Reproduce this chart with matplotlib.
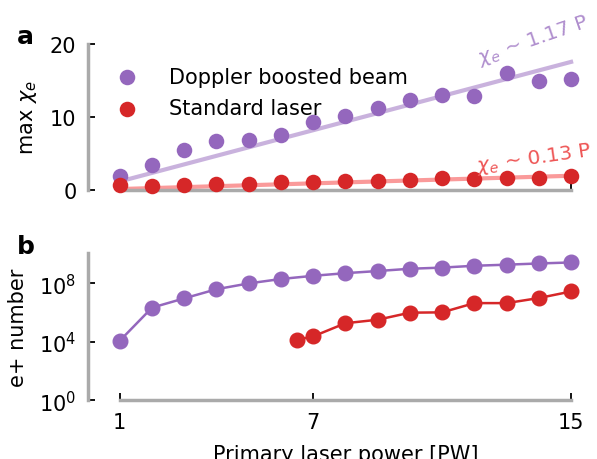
import numpy as np
import matplotlib
matplotlib.use('Agg')
import matplotlib.pyplot as plt

# panel a: max chi_e versus primary laser power
power = [1, 2, 3, 4, 5, 6, 7, 8, 9, 10, 11, 12, 13, 14, 15]
chi_doppler = [1.9, 3.4, 5.45, 6.7, 6.8, 7.6, 9.3, 10.2, 11.2, 12.3, 13.0, 12.9, 16.0, 14.9, 15.2]
chi_standard = [0.7, 0.55, 0.65, 0.8, 0.8, 1.1, 1.1, 1.2, 1.2, 1.35, 1.6, 1.55, 1.7, 1.65, 1.9]
fit_slopes = [1.17, 0.13]
fit_labels = [r'$\chi_e$ ~ 1.17 P', r'$\chi_e$ ~ 0.13 P']

# panel b: positron number
e_doppler = [1.2e4, 2.2e6, 9.5e6, 4e7, 1e8, 2e8, 3.3e8, 5e8, 7e8, 1e9, 1.2e9, 1.6e9, 1.9e9, 2.3e9, 2.7e9]
power_standard = [6.5, 7, 8, 9, 10, 11, 12, 13, 14, 15]
e_standard = [1.4e4, 2.4e4, 1.9e5, 3.3e5, 1e6, 1.05e6, 4.5e6, 4.5e6, 1e7, 2.8e7]

C_PURPLE = '#9467bd'
C_RED = '#d62728'
C_SPINE = '#aaaaaa'
FS = 15

plt.rcParams['font.size'] = FS

fig = plt.figure(figsize=(5.97, 4.6), dpi=100)
ax1 = fig.add_axes([0.1466, 0.5848, 0.864, 0.3174])
ax2 = fig.add_axes([0.1466, 0.1272, 0.864, 0.3207])


def style_axis(ax):
  for s in ['top', 'right']:
    ax.spines[s].set_visible(False)
  for s in ['left', 'bottom']:
    ax.spines[s].set_color(C_SPINE)
    ax.spines[s].set_linewidth(2.5)
  ax.spines['bottom'].set_bounds(1, 15)
  ax.tick_params(direction='in', length=5, width=1.3, color='k', pad=8, labelsize=FS)
  ax.tick_params(which='minor', length=0)
  ax.set_xlim(0, 16)


# ---- panel a
p = np.array(power)
ax1.plot(p, fit_slopes[0] * p, color=C_PURPLE, alpha=0.5, lw=3, zorder=1)
ax1.plot(p, fit_slopes[1] * p, color='#fa9a9a', lw=3, zorder=1)
ax1.scatter(power, chi_doppler, s=125, color=C_PURPLE, lw=0, zorder=3, clip_on=False,
            label='Doppler boosted beam')
ax1.scatter(power, chi_standard, s=125, color=C_RED, lw=0, zorder=3, clip_on=False,
            label='Standard laser')
ax1.text(12.17, 17.3, fit_labels[0], color=C_PURPLE, alpha=0.75, fontsize=14.5, rotation=19,
         rotation_mode='anchor', ha='left', va='baseline', clip_on=False)
ax1.text(12.1, 2.6, fit_labels[1], color='#ee5555', fontsize=14.5, rotation=8,
         rotation_mode='anchor', ha='left', va='baseline', clip_on=False)
style_axis(ax1)
ax1.set_ylim(0, 20)
ax1.set_yticks([0, 10, 20])
ax1.set_xticks([1, 15])
ax1.set_xticklabels([])
ax1.set_ylabel(r'max $\chi_e$', labelpad=8)
ax1.legend(loc='upper left', bbox_to_anchor=(0.02, 0.90), frameon=False, fontsize=FS,
           handletextpad=1.0, labelspacing=0.55, borderaxespad=0)

# ---- panel b
ax2.plot(power, e_doppler, '-o', color=C_PURPLE, lw=1.8, ms=10.5, clip_on=False, zorder=3)
ax2.plot(power_standard, e_standard, '-o', color=C_RED, lw=1.8, ms=10.5, clip_on=False, zorder=3)
style_axis(ax2)
ax2.set_yscale('log')
ax2.set_ylim(1, 1.2e10)
ax2.set_yticks([1, 1e4, 1e8])
ax2.set_yticklabels([r'$10^0$', r'$10^4$', r'$10^8$'])
ax2.set_xticks([1, 7, 15])
ax2.set_ylabel('e+ number', labelpad=8)
ax2.set_xlabel('Primary laser power [PW]', labelpad=9)

# panel letters
fig.text(17 / 597, 1 - 44 / 460, 'a', fontsize=18, fontweight='bold', ha='left', va='baseline')
fig.text(17 / 597, 1 - 254 / 460, 'b', fontsize=18, fontweight='bold', ha='left', va='baseline')

fig.savefig('out.png', dpi=100)
